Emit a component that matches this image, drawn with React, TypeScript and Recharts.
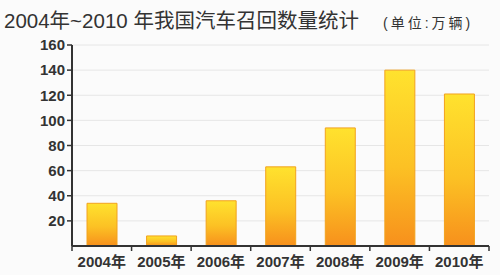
import React from 'react';
import { BarChart, Bar, XAxis, YAxis, CartesianGrid } from 'recharts';

const years = ['2004年', '2005年', '2006年', '2007年', '2008年', '2009年', '2010年'];
const recalls = [34, 8, 36, 63, 94, 140, 121];
const yTicks = [20, 40, 60, 80, 100, 120, 140, 160];

const data = years.map((y, i) => ({ year: y, value: recalls[i] }));

const font = '"Liberation Sans", Arial, "Noto Sans CJK SC", sans-serif';

const XTick = (props: any) => {
  const { x, y, payload, index, visibleTicksCount } = props;
  const half = payload && payload.offset ? payload.offset : 29.8;
  const count = visibleTicksCount || years.length;
  return (
    <g>
      <line x1={x - half} x2={x - half} y1={y - 8} y2={y - 3} stroke="#333" strokeWidth={1.5} />
      {index === count - 1 && (
        <line x1={x + half} x2={x + half} y1={y - 8} y2={y - 3} stroke="#333" strokeWidth={1.5} />
      )}
      <text x={x} y={y + 13} textAnchor="middle" fill="#333" fontSize={15} fontWeight="bold" fontFamily={font}>
        {payload.value}
      </text>
    </g>
  );
};

export default function App() {
  return (
    <div style={{ position: 'absolute', left: 0, top: 0, width: 500, height: 275, background: '#fbfbfb', fontFamily: font }}>
      <div style={{ position: 'absolute', left: 4, top: 4, fontSize: 20.5, color: '#333', whiteSpace: 'nowrap' }}>
        2004年~2010 年我国汽车召回数量统计
      </div>
      <div style={{ position: 'absolute', left: 383, top: 12, fontSize: 14, color: '#333', whiteSpace: 'nowrap', letterSpacing: 3 }}>
        (单位:万辆)
      </div>
      <div style={{ position: 'absolute', left: 0, top: 0 }}>
        <BarChart width={500} height={275} data={data} margin={{ top: 45, right: 11, bottom: 0, left: 0 }} barCategoryGap="25%">
          <defs>
            <linearGradient id="barGrad" x1="0" y1="0" x2="0" y2="1">
              <stop offset="0%" stopColor="#ffe22e" />
              <stop offset="55%" stopColor="#fcc124" />
              <stop offset="100%" stopColor="#f7901c" />
            </linearGradient>
          </defs>
          <CartesianGrid vertical={false} stroke="#e6e6e6" />
          <XAxis
            dataKey="year"
            height={29}
            tickLine={false}
            axisLine={{ stroke: '#333', strokeWidth: 2 }}
            tick={<XTick />}
            interval={0}
          />
          <YAxis
            width={72}
            domain={[0, 160]}
            ticks={yTicks}
            tickLine={{ stroke: '#333', strokeWidth: 1.5 }}
            tickSize={5}
            axisLine={{ stroke: '#333', strokeWidth: 2 }}
            tick={{ fill: '#333', fontSize: 15, fontWeight: 'bold', fontFamily: font }}
          />
          <Bar dataKey="value" fill="url(#barGrad)" stroke="#f2a21e" strokeWidth={1} isAnimationActive={false} barSize={30} />
        </BarChart>
      </div>
    </div>
  );
}
